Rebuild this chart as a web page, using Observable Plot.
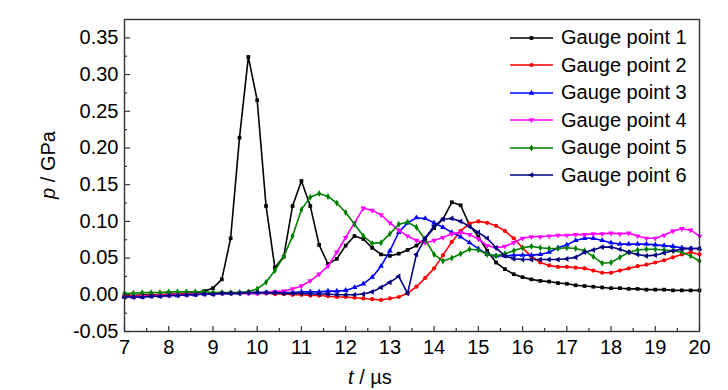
<!DOCTYPE html>
<html><head><meta charset="utf-8">
<script src="https://cdn.jsdelivr.net/npm/d3@7"></script>
<script src="https://cdn.jsdelivr.net/npm/@observablehq/plot@0.6"></script>
<style>
body{margin:0;background:#fff;}
#wrap{position:relative;width:728px;height:390px;font-family:"Liberation Sans",Arial,sans-serif;}
#legend{position:absolute;left:508px;top:24px;}
.row{display:flex;align-items:center;height:27.5px;font-size:20px;color:#000;white-space:nowrap;}
.row svg{margin-right:6px;}
</style>
</head><body>
<div id="wrap"><div id="legend"></div></div>
<script>
// time axis (µs), sampled every 0.2 µs
const time = [7.0,7.2,7.4,7.6,7.8,8.0,8.2,8.4,8.6,
  8.8,9.0,9.2,9.4,9.6,9.8,10.0,10.2,10.4,10.6,
  10.8,11.0,11.2,11.4,11.6,11.8,12.0,12.2,12.4,12.6,
  12.8,13.0,13.2,13.4,13.6,13.8,14.0,14.2,14.4,14.6,
  14.8,15.0,15.2,15.4,15.6,15.8,16.0,16.2,16.4,16.6,
  16.8,17.0,17.2,17.4,17.6,17.8,18.0,18.2,18.4,18.6,
  18.8,19.0,19.2,19.4,19.6,19.8,20.0];

const g1 = [-0.001,-0.001,0.000,0.000,0.000,0.001,0.001,0.002,0.003,
  0.005,0.009,0.021,0.077,0.214,0.324,0.265,0.121,0.037,0.052,
  0.121,0.155,0.121,0.068,0.042,0.049,0.067,0.080,0.076,0.064,
  0.055,0.053,0.056,0.061,0.067,0.077,0.091,0.103,0.126,0.122,
  0.095,0.079,0.060,0.044,0.035,0.028,0.024,0.021,0.019,0.018,
  0.016,0.015,0.013,0.012,0.011,0.010,0.009,0.009,0.008,0.008,
  0.007,0.007,0.007,0.006,0.006,0.006,0.006];
const g2 = [-0.002,-0.002,-0.001,-0.001,0.000,0.000,0.001,0.001,0.001,
  0.002,0.002,0.002,0.002,0.002,0.002,0.002,0.002,0.001,0.001,
  0.000,0.000,-0.001,-0.001,-0.002,-0.003,-0.003,-0.004,-0.005,-0.006,
  -0.007,-0.005,-0.003,0.002,0.011,0.023,0.036,0.054,0.072,0.087,
  0.097,0.100,0.098,0.094,0.087,0.077,0.064,0.052,0.044,0.040,
  0.038,0.038,0.037,0.036,0.033,0.030,0.030,0.033,0.036,0.039,
  0.041,0.044,0.047,0.051,0.055,0.058,0.055];
const g3 = [-0.003,-0.003,-0.003,-0.002,-0.002,-0.001,-0.001,0.000,0.000,
  0.001,0.001,0.002,0.002,0.003,0.003,0.003,0.003,0.003,0.003,
  0.003,0.004,0.004,0.004,0.005,0.005,0.006,0.010,0.015,0.024,
  0.039,0.060,0.085,0.098,0.105,0.104,0.098,0.092,0.085,0.079,
  0.071,0.063,0.055,0.053,0.053,0.054,0.054,0.054,0.055,0.058,
  0.064,0.068,0.074,0.077,0.077,0.074,0.071,0.069,0.069,0.069,
  0.069,0.068,0.067,0.066,0.064,0.063,0.063];
const g4 = [-0.003,-0.003,-0.002,-0.002,-0.001,-0.001,0.000,0.000,0.001,
  0.001,0.001,0.002,0.002,0.002,0.002,0.002,0.003,0.004,0.005,
  0.008,0.012,0.019,0.028,0.039,0.058,0.078,0.098,0.118,0.115,
  0.109,0.098,0.088,0.080,0.074,0.071,0.074,0.078,0.083,0.085,
  0.082,0.076,0.067,0.064,0.066,0.071,0.077,0.079,0.079,0.080,
  0.081,0.081,0.082,0.082,0.083,0.083,0.084,0.083,0.084,0.080,
  0.077,0.077,0.081,0.087,0.090,0.088,0.080];
const g5 = [0.002,0.002,0.003,0.003,0.003,0.004,0.004,0.004,0.004,
  0.004,0.003,0.003,0.003,0.003,0.004,0.008,0.017,0.033,0.052,
  0.080,0.116,0.133,0.138,0.134,0.125,0.112,0.096,0.080,0.070,
  0.071,0.083,0.096,0.099,0.092,0.075,0.055,0.046,0.050,0.056,
  0.062,0.061,0.055,0.053,0.056,0.060,0.064,0.066,0.064,0.063,
  0.063,0.064,0.063,0.060,0.052,0.043,0.044,0.051,0.058,0.061,
  0.062,0.062,0.061,0.060,0.058,0.053,0.046];
const g6 = [-0.003,-0.003,-0.003,-0.002,-0.002,-0.001,-0.001,0.000,0.000,
  0.001,0.001,0.002,0.002,0.002,0.003,0.003,0.003,0.003,0.002,
  0.002,0.002,0.001,0.001,0.001,0.000,0.000,0.000,0.001,0.004,
  0.010,0.017,0.025,0.002,0.055,0.077,0.094,0.103,0.104,0.100,
  0.093,0.085,0.077,0.064,0.053,0.049,0.048,0.048,0.048,0.048,
  0.048,0.049,0.051,0.058,0.061,0.065,0.065,0.062,0.058,0.055,
  0.053,0.054,0.057,0.060,0.062,0.063,0.063];

const seriesNames = ["Gauge point 1","Gauge point 2","Gauge point 3","Gauge point 4","Gauge point 5","Gauge point 6"];
const seriesValues = [g1,g2,g3,g4,g5,g6];
const xTicks = [7,8,9,10,11,12,13,14,15,16,17,18,19,20];
const xMinor = [7.5,8.5,9.5,10.5,11.5,12.5,13.5,14.5,15.5,16.5,17.5,18.5,19.5];
const yTicks = [-0.05,0.00,0.05,0.10,0.15,0.20,0.25,0.30,0.35];
const yMinor = [-0.025,0.025,0.075,0.125,0.175,0.225,0.275,0.325];

const colors = ["#000000","#ff0000","#0000ff","#ff00ff","#008000","#000080"];
const s3 = Math.sqrt(3);
const triDown = {draw(c, s){ const y = -Math.sqrt(s/(s3*3)); c.moveTo(0,-y*2); c.lineTo(-s3*y,y); c.lineTo(s3*y,y); c.closePath(); }};
const triLeft = {draw(c, s){ const y = -Math.sqrt(s/(s3*3)); c.moveTo(y*2,0); c.lineTo(-y,-s3*y); c.lineTo(-y,s3*y); c.closePath(); }};
const symbols = [d3.symbolSquare, d3.symbolCircle, d3.symbolTriangle, triDown, d3.symbolDiamond, triLeft];

const rows = [];
seriesValues.forEach((vals, k) => vals.forEach((v, i) => rows.push({t: time[i], p: v, s: k})));

const W = 728, H = 390, ML = 124, MR = 29, MT = 19, MB = 59;
const PW = W - ML - MR, PH = H - MT - MB;

const marks = [];
seriesValues.forEach((vals, k) => {
  const d = rows.filter(r => r.s === k);
  marks.push(Plot.line(d, {x: "t", y: "p", stroke: colors[k], strokeWidth: 1.6}));
  marks.push(Plot.dot(d, {x: "t", y: "p", fill: colors[k], stroke: "none", symbol: symbols[k], r: 2.1}));
});

const chart = Plot.plot({
  width: W, height: H,
  marginLeft: ML, marginRight: MR, marginTop: MT, marginBottom: MB,
  style: {fontFamily: "'Liberation Sans', Arial, sans-serif", fontSize: "20px", color: "#000", background: "#fff"},
  x: {domain: [7, 20]},
  y: {domain: [-0.05, 0.375]},
  marks: [
    Plot.axisX({ticks: xTicks, tickSize: 0, tickPadding: 8, tickFormat: d => String(d), label: null, fontSize: 20}),
    Plot.axisY({ticks: yTicks, tickSize: 0, tickPadding: 6, tickFormat: d => d.toFixed(2), label: null, fontSize: 20}),
    // inward tick marks
    Plot.tickX(xTicks, {x: d => d, stroke: "#333", strokeWidth: 1.2, insetTop: PH - 5}),
    Plot.tickX(xMinor, {x: d => d, stroke: "#333", strokeWidth: 1.2, insetTop: PH - 3}),
    Plot.tickY(yTicks, {y: d => d, stroke: "#333", strokeWidth: 1.2, insetRight: PW - 6}),
    Plot.tickY(yMinor, {y: d => d, stroke: "#333", strokeWidth: 1.2, insetRight: PW - 3}),
    ...marks,
    Plot.frame({stroke: "#333", strokeWidth: 1.4})
  ]
});

const svg = d3.select(chart);
const xl = svg.append("text").attr("x", 370).attr("y", 384).attr("text-anchor", "middle")
  .attr("font-size", 20).attr("fill", "#000");
xl.append("tspan").attr("font-style", "italic").text("t");
xl.append("tspan").text(" / µs");
const yl = svg.append("text").attr("transform", "translate(55,165) rotate(-90)").attr("text-anchor", "middle")
  .attr("font-size", 20).attr("fill", "#000");
yl.append("tspan").attr("font-style", "italic").text("p");
yl.append("tspan").text(" / GPa");

document.getElementById("wrap").prepend(chart);

const leg = d3.select("#legend");
seriesNames.forEach((name, k) => {
  const row = leg.append("div").attr("class", "row");
  const s = row.append("svg").attr("width", 47).attr("height", 12);
  s.append("line").attr("x1", 2).attr("x2", 45).attr("y1", 6).attr("y2", 6).attr("stroke", colors[k]).attr("stroke-width", 1.6);
  s.append("path").attr("transform", "translate(23.5,6)").attr("d", d3.symbol(symbols[k], Math.PI * 2.1 * 2.1)()).attr("fill", colors[k]);
  row.append("span").text(name);
});
</script>
</body></html>
